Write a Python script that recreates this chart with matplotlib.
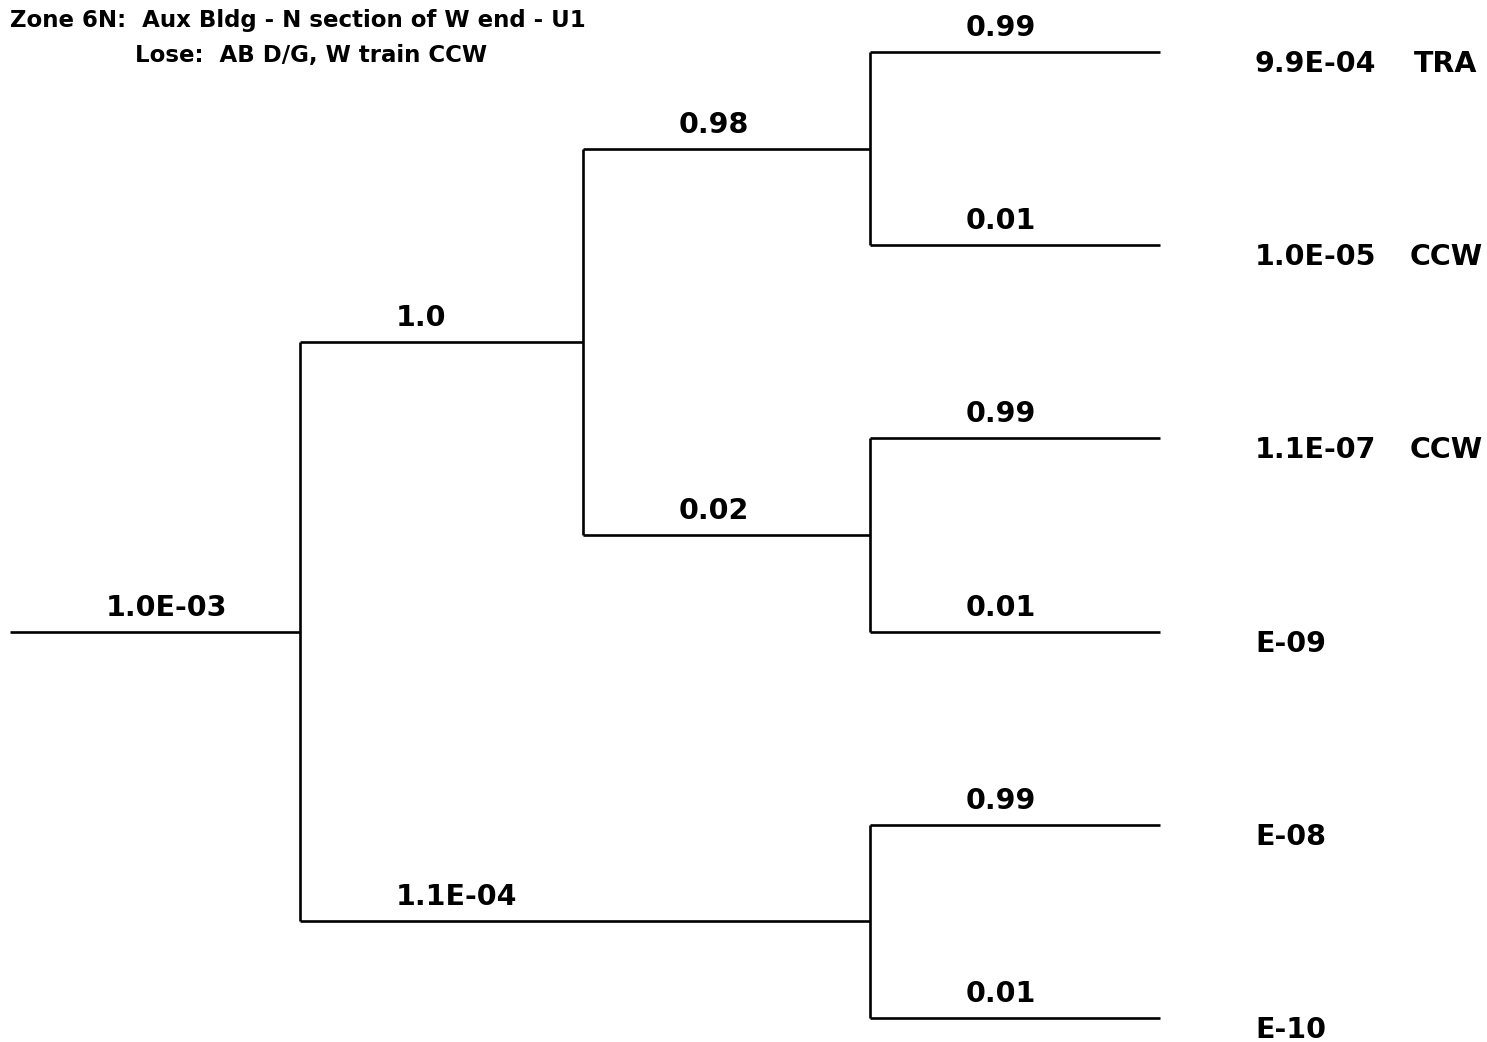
import matplotlib
matplotlib.use("Agg")
import matplotlib.pyplot as plt

# Event tree: (branch probability, sub-branches)
tree = ("1.0E-03", [
    ("1.0", [
        ("0.98", [("0.99", []), ("0.01", [])]),
        ("0.02", [("0.99", []), ("0.01", [])]),
    ]),
    ("1.1E-04", [("0.99", []), ("0.01", [])]),
])

# End-state frequencies and consequences, top to bottom
outcomes = ["9.9E-04", "1.0E-05", "1.1E-07", "E-09", "E-08", "E-10"]
consequences = ["TRA", "CCW", "CCW", "", "", ""]

title_lines = ["Zone 6N:  Aux Bldg - N section of W end - U1",
               "Lose:  AB D/G, W train CCW"]

# layout (pixel-like coordinates)
col_x = [10, 300, 583, 870, 1160]
leaf_y0, leaf_dy = 52, 193.2

plt.rcParams['font.family'] = ['DejaVu Sans']
fig = plt.figure(figsize=(14.87, 10.42), dpi=100)
ax = fig.add_axes([0, 0, 1, 1])
ax.set_xlim(0, 1487)
ax.set_ylim(1042, 0)
ax.axis('off')

lw = 1.9
fs = 20.5
leaf_counter = [0]


def height(node):
    kids = node[1]
    return 0 if not kids else 1 + max(height(k) for k in kids)


def draw(node, start_col):
    label, kids = node
    end_col = len(col_x) - 1 - height(node)
    if kids:
        ys = [draw(k, end_col) for k in kids]
        y = (ys[0] + ys[-1]) / 2
        ax.plot([col_x[end_col]] * 2, [ys[0], ys[-1]], color='black', lw=lw,
                solid_capstyle='butt')
    else:
        y = leaf_y0 + leaf_dy * leaf_counter[0]
        leaf_counter[0] += 1
    ax.plot([col_x[start_col], col_x[end_col]], [y, y], color='black', lw=lw,
            solid_capstyle='butt')
    ax.text(col_x[start_col] + 96, y - 16, label, ha='left', va='baseline',
            fontsize=fs, fontweight='bold')
    return y


draw(tree, 0)

for i, (freq, cons) in enumerate(zip(outcomes, consequences)):
    y = leaf_y0 + leaf_dy * i + 20
    ax.text(1255, y, freq, ha='left', va='baseline', fontsize=fs, fontweight='bold')
    if cons:
        ax.text(1446, y, cons, ha='center', va='baseline', fontsize=fs, fontweight='bold')

ax.text(10, 27, title_lines[0], ha='left', va='baseline', fontsize=16.5, fontweight='bold')
ax.text(135, 62, title_lines[1], ha='left', va='baseline', fontsize=16.5, fontweight='bold')

fig.savefig("out.png", dpi=100)
